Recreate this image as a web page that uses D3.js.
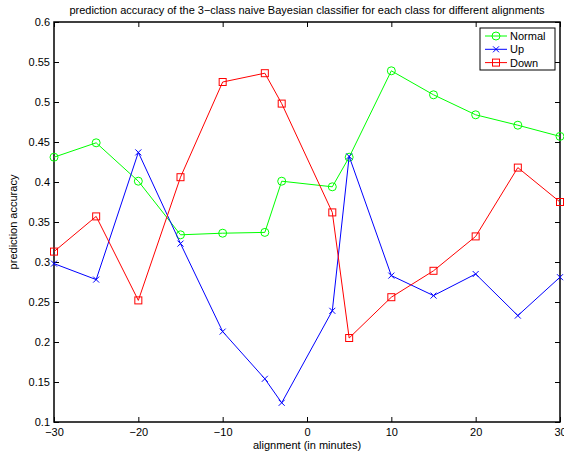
<!DOCTYPE html>
<html>
<head>
<meta charset="utf-8">
<script src="https://cdn.jsdelivr.net/npm/d3@7"></script>
<style>
  body { margin: 0; background: #fff; }
  svg text { font-family: "Liberation Sans", Arial, Helvetica, sans-serif; fill: #000; }
</style>
</head>
<body>
<div id="chart"></div>
<script>
// data
var alignments = [-30, -25, -20, -15, -10, -5, -3, 3, 5, 10, 15, 20, 25, 30];
var normalAcc = [0.431, 0.449, 0.401, 0.334, 0.336, 0.337, 0.401, 0.394, 0.431, 0.539, 0.509, 0.484, 0.471, 0.457];
var upAcc     = [0.298, 0.278, 0.437, 0.323, 0.213, 0.154, 0.124, 0.239, 0.432, 0.283, 0.258, 0.285, 0.233, 0.281];
var downAcc   = [0.313, 0.357, 0.252, 0.406, 0.525, 0.536, 0.498, 0.362, 0.205, 0.256, 0.289, 0.332, 0.418, 0.375];
var seriesNames = ["Normal", "Up", "Down"];
var xTicks = [-30, -20, -10, 0, 10, 20, 30];
var yTicks = [0.1, 0.15, 0.2, 0.25, 0.3, 0.35, 0.4, 0.45, 0.5, 0.55, 0.6];

var series = [
  { name: seriesNames[0], values: normalAcc, color: "#00ff00", marker: "circle" },
  { name: seriesNames[1], values: upAcc, color: "#0000ff", marker: "x" },
  { name: seriesNames[2], values: downAcc, color: "#ff0000", marker: "square" }
];

var margin = { top: 22, right: 4, bottom: 34, left: 54 };
var width = 564 - margin.left - margin.right,
    height = 456 - margin.top - margin.bottom;

var svg = d3.select("#chart").append("svg")
    .attr("width", 564)
    .attr("height", 456);

var g = svg.append("g")
    .attr("transform", "translate(" + margin.left + "," + margin.top + ")");

var x = d3.scaleLinear().domain([-30, 30]).range([0, width]);
var y = d3.scaleLinear().domain([0.1, 0.6]).range([height, 0]);

function fmtX(d) { return d < 0 ? "\u2212" + Math.abs(d) : String(d); }
function fmtY(d) { return String(+d.toFixed(2)); }

var tickLen = 5;

// axes (MATLAB style: inward ticks on all four sides)
var xAxis = d3.axisBottom(x).tickValues(xTicks).tickFormat(fmtX).tickSizeInner(-tickLen).tickSizeOuter(0).tickPadding(6);
var yAxis = d3.axisLeft(y).tickValues(yTicks).tickFormat(fmtY).tickSizeInner(-tickLen).tickSizeOuter(0).tickPadding(4);
var xTop = d3.axisTop(x).tickValues(xTicks).tickFormat("").tickSizeInner(-tickLen).tickSizeOuter(0);
var yRight = d3.axisRight(y).tickValues(yTicks).tickFormat("").tickSizeInner(-tickLen).tickSizeOuter(0);

function styleAxis(sel) {
  sel.selectAll("path").remove();
  sel.selectAll("line").attr("stroke", "#000");
  sel.selectAll("text").style("font-size", "11px").attr("fill", "#000");
}

g.append("g").attr("transform", "translate(0," + height + ")").call(xAxis).call(styleAxis);
g.append("g").call(yAxis).call(styleAxis);
g.append("g").call(xTop).call(styleAxis);
g.append("g").attr("transform", "translate(" + width + ",0)").call(yRight).call(styleAxis);

g.append("rect")
    .attr("width", width)
    .attr("height", height)
    .attr("fill", "none")
    .attr("stroke", "#000")
    .attr("stroke-width", 1.5);

// lines
var line = d3.line()
    .x(function(d, i) { return x(alignments[i]); })
    .y(function(d) { return y(d); });

function drawMarker(sel, type, color) {
  if (type === "circle") {
    sel.append("circle").attr("r", 4).attr("fill", "none").attr("stroke", color);
  } else if (type === "square") {
    sel.append("rect").attr("x", -3.5).attr("y", -3.5).attr("width", 7).attr("height", 7)
        .attr("fill", "none").attr("stroke", color);
  } else {
    sel.append("path").attr("d", "M-3,-3L3,3M-3,3L3,-3").attr("stroke", color).attr("fill", "none");
  }
}

series.forEach(function(s) {
  g.append("path")
      .datum(s.values)
      .attr("d", line)
      .attr("fill", "none")
      .attr("stroke", s.color)
      .attr("stroke-width", 1);

  g.selectAll(".m-" + s.name)
      .data(s.values)
      .enter().append("g")
      .attr("class", "m-" + s.name)
      .attr("transform", function(d, i) { return "translate(" + x(alignments[i]) + "," + y(d) + ")"; })
      .each(function() { drawMarker(d3.select(this), s.marker, s.color); });
});

// title and axis labels
svg.append("text")
    .attr("x", margin.left + width / 2)
    .attr("y", 14)
    .attr("text-anchor", "middle")
    .style("font-size", "11px")
    .text("prediction accuracy of the 3\u2212class naive Bayesian classifier for each class for different alignments");

svg.append("text")
    .attr("x", margin.left + width / 2)
    .attr("y", 449)
    .attr("text-anchor", "middle")
    .style("font-size", "11px")
    .text("alignment (in minutes)");

svg.append("text")
    .attr("transform", "translate(17," + (margin.top + height / 2) + ") rotate(-90)")
    .attr("text-anchor", "middle")
    .style("font-size", "11px")
    .text("prediction accuracy");

// legend
var legend = g.append("g").attr("transform", "translate(" + (width - 80) + ",6)");
legend.append("rect")
    .attr("width", 75)
    .attr("height", 42)
    .attr("fill", "#fff")
    .attr("stroke", "#000")
    .attr("stroke-width", 1);

series.forEach(function(s, i) {
  var row = legend.append("g").attr("transform", "translate(0," + (8 + i * 13.3) + ")");
  row.append("line").attr("x1", 5).attr("x2", 27).attr("stroke", s.color);
  drawMarker(row.append("g").attr("transform", "translate(16,0)"), s.marker, s.color);
  row.append("text")
      .attr("x", 30)
      .attr("y", 4)
      .style("font-size", "11px")
      .text(s.name);
});
</script>
</body>
</html>
